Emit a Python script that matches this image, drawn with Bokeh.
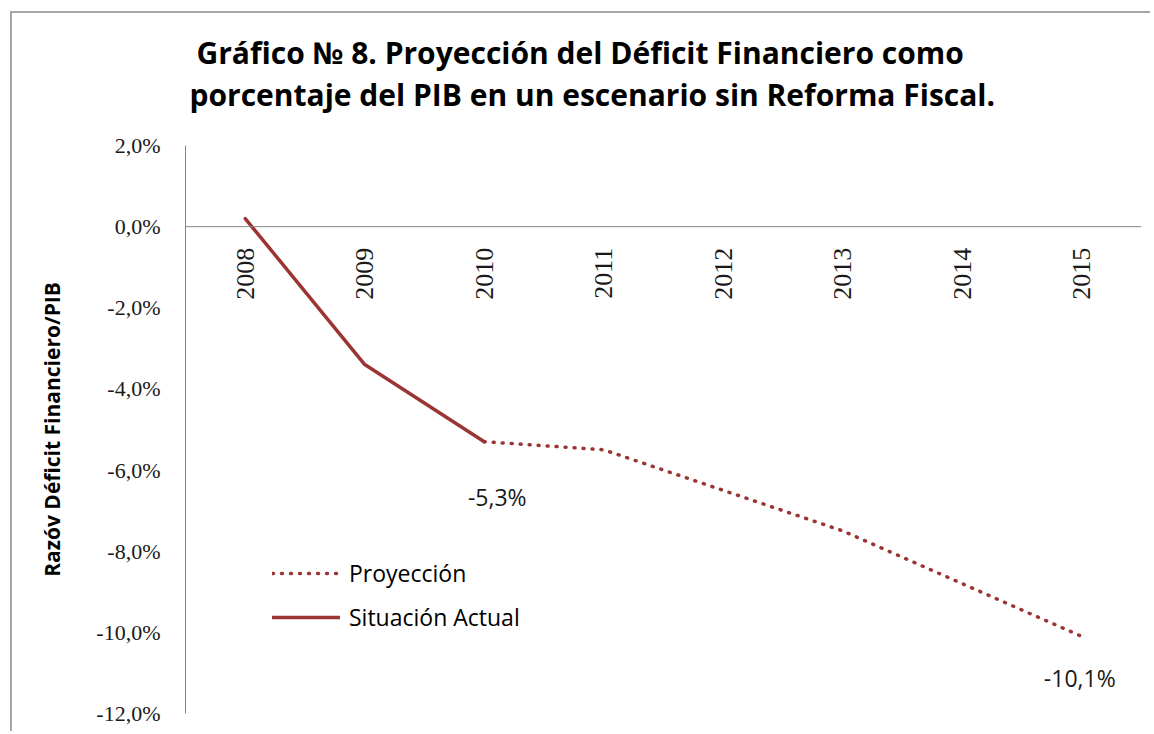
import math
from bokeh.plotting import figure
from bokeh.models import Range1d, Span, Title, Legend, LegendItem, CustomJSTickFormatter, FixedTicker, ColumnDataSource
from bokeh.core.properties import value
from bokeh.embed import file_html
from bokeh.resources import INLINE

# ---- data ----
years = [2008, 2009, 2010, 2011, 2012, 2013, 2014, 2015]
year_labels = ["2008", "2009", "2010", "2011", "2012", "2013", "2014", "2015"]
actual_years = [2008, 2009, 2010]
actual_values = [0.2, -3.4, -5.3]
proj_years = [2010, 2011, 2012, 2013, 2014, 2015]
proj_values = [-5.3, -5.5, -6.5, -7.5, -8.8, -10.1]
y_ticks = [2, 0, -2, -4, -6, -8, -10, -12]
label_years = [2010, 2015]
label_values = [-5.3, -10.1]

title_1 = "Gráfico № 8. Proyección del Déficit Financiero como"
title_2 = "porcentaje del PIB en un escenario sin Reforma Fiscal."
y_title = "Razóv Déficit Financiero/PIB"

RED = "#9B3533"
SANS = "Open Sans"
SERIF = "Liberation Serif"

p = figure(width=1140, height=720, output_backend="svg", toolbar_location=None,
           x_range=Range1d(2007.5, 2015.5), y_range=Range1d(-12, 2),
           min_border_left=173, min_border_top=132, min_border_right=11, min_border_bottom=20)
p.margin = (11, 0, 0, 10)
p.styles = {"border-left": "2px solid #a6a6a6", "border-top": "2px solid #a6a6a6"}
p.outline_line_color = None
p.xgrid.visible = False
p.ygrid.visible = False
p.xaxis.visible = False

yax = p.yaxis[0]
yax.ticker = FixedTicker(ticks=y_ticks)
yax.formatter = CustomJSTickFormatter(code="return tick.toFixed(1).replace('.', ',') + '%';")
yax.major_tick_line_color = None
yax.minor_tick_line_color = None
yax.axis_line_color = "#868686"
yax.axis_line_width = 1
yax.major_label_text_font = SERIF
yax.major_label_text_font_size = "22px"
yax.major_label_text_color = "#1a1a1a"
yax.major_label_standoff = 19
yax.axis_label = y_title
yax.axis_label_text_font = SANS
yax.axis_label_text_font_style = "bold"
yax.axis_label_text_font_size = "21px"
yax.axis_label_text_color = "#000000"
yax.axis_label_standoff = 27

# zero line acting as category axis
p.add_layout(Span(location=0, dimension="width", line_color="#868686", line_width=1))

# category labels below zero line
cat_src = ColumnDataSource(dict(x=years, y=[0] * len(years), t=year_labels))
p.text(x="x", y="y", text="t", source=cat_src, angle=math.pi / 2, y_offset=21,
       text_align="right", text_baseline="middle", text_font=value(SERIF),
       text_font_size="26px", text_color="#1a1a1a")

# lines
r_proj = p.line(proj_years, proj_values, line_color=RED, line_width=3.5,
                line_dash="1 8", line_cap="round")
r_act = p.line(actual_years, actual_values, line_color=RED, line_width=3.5, line_cap="round")

# data labels
lab_src = ColumnDataSource(dict(x=label_years, y=label_values,
                                t=[("%.1f" % v).replace(".", ",") + "%" for v in label_values],
                                dx=[13, -2], dy=[55, 42]))
p.text(x="x", y="y", text="t", source=lab_src, x_offset="dx", y_offset="dy",
       text_align="center", text_baseline="middle", text_font=value(SANS),
       text_font_size="23px", text_color="#1a1a1a")

legend = Legend(items=[LegendItem(label="Proyección", renderers=[r_proj]),
                       LegendItem(label="Situación Actual", renderers=[r_act])],
                location=(87, 80), orientation="vertical",
                glyph_width=68, glyph_height=20, label_height=20, spacing=12,
                label_standoff=9, padding=0, margin=0,
                border_line_color=None, background_fill_alpha=0,
                label_text_font=SANS, label_text_font_size="23px", label_text_color="#000000")
p.add_layout(legend, "center")

# title: two lines, the one added first sits closest to the plot
p.add_layout(Title(text=title_2, align="left", offset=4, standoff=61,
                   text_font=SANS, text_font_style="bold", text_font_size="30px",
                   text_color="#000000"), "above")
p.add_layout(Title(text=title_1, align="left", offset=11, standoff=-63,
                   text_font=SANS, text_font_style="bold", text_font_size="30px",
                   text_color="#000000"), "above")

open("out.html", "w").write(file_html(p, INLINE))
